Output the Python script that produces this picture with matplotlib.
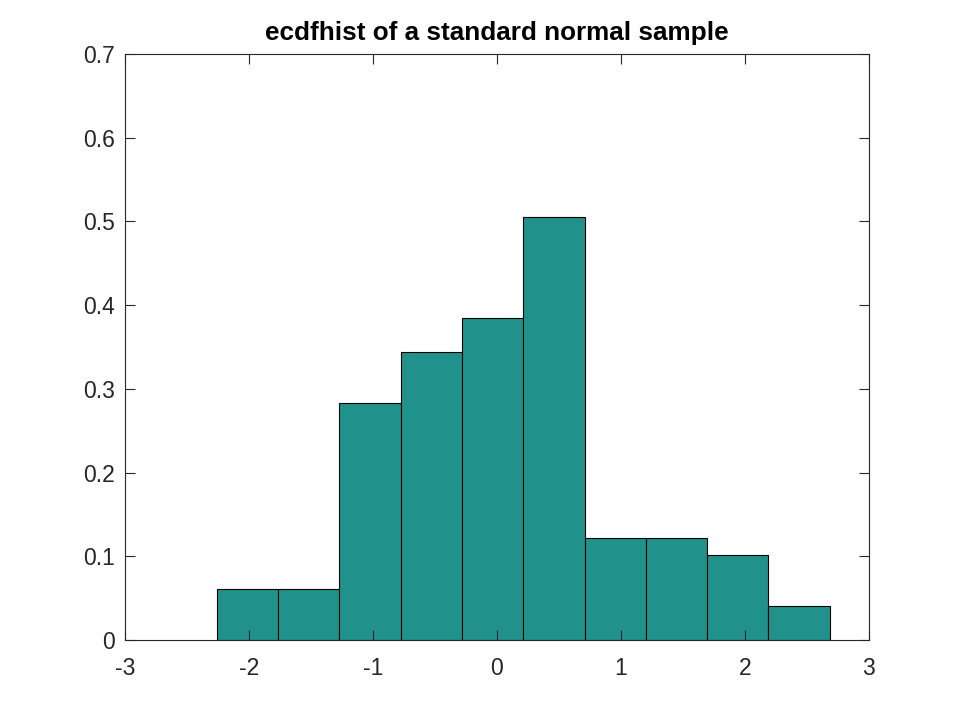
import numpy as np
import matplotlib
matplotlib.use("Agg")
import matplotlib.pyplot as plt

# bin edges and normalised heights
bin_edges = [-2.258, -1.764, -1.270, -0.775, -0.281, 0.213,
             0.708, 1.202, 1.697, 2.191, 2.685]
heights = [0.0607, 0.0607, 0.2832, 0.3439, 0.3844, 0.5058,
           0.1214, 0.1214, 0.1012, 0.0405]

xticks = [-3, -2, -1, 0, 1, 2, 3]
yticks = [0, 0.1, 0.2, 0.3, 0.4, 0.5, 0.6, 0.7]
ytick_labels = ["0", "0.1", "0.2", "0.3", "0.4", "0.5", "0.6", "0.7"]

plt.rcParams["font.family"] = ["Liberation Sans", "DejaVu Sans"]

fig = plt.figure(figsize=(9.6, 7.2), dpi=100)
ax = fig.add_axes([0.13, 0.111, 0.775, 0.814])

left = np.array(bin_edges[:-1])
widths = np.diff(bin_edges)
ax.bar(left, heights, width=widths, align="edge",
       color="#21918c", edgecolor="black", linewidth=0.8, zorder=1)

ax.set_xlim(-3, 3)
ax.set_ylim(0, 0.7)
ax.set_xticks(xticks)
ax.set_xticklabels([str(t) for t in xticks])
ax.set_yticks(yticks)
ax.set_yticklabels(ytick_labels)
ax.tick_params(direction="in", length=7, width=0.8, labelsize=16.5,
               top=True, right=True, colors="#262626", labelcolor="#262626")
ax.tick_params(axis="x", pad=12)
ax.tick_params(axis="y", pad=7)
for s in ax.spines.values():
    s.set_linewidth(0.8)
    s.set_color("#262626")
    s.set_zorder(3)
ax.set_axisbelow(False)

ax.set_title("ecdfhist of a standard normal sample", fontsize=18.8,
             fontweight="bold", pad=10)

fig.savefig("out.png", dpi=100)
